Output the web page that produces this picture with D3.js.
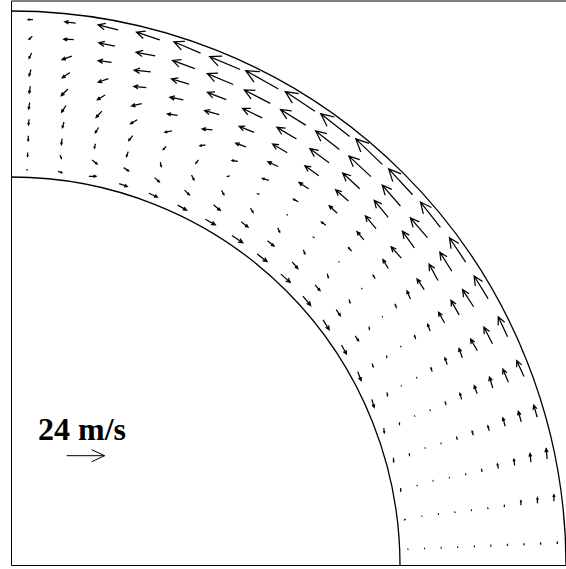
<!DOCTYPE html>
<html>
<head>
<meta charset="utf-8">
<script src="https://cdn.jsdelivr.net/npm/d3@7"></script>
<style>
  body { margin: 0; background: #fff; }
  svg { display: block; }
</style>
</head>
<body>
<div id="chart"></div>
<script>
const FRAME_WIDTH = 566;
const FRAME_HEIGHT = 569;
const CX = 11.5, CY = 565.5;          // centre of the annulus
const R_IN = 388.5, R_OUT = 554.5;

// grid: azimuth of each row (deg) and radial level (0 = inner wall, 1 = outer wall)
const THETA = [2.25, 6.75, 11.25, 15.75, 20.25, 24.75, 29.25, 33.75, 38.25, 42.75,
               47.25, 51.75, 56.25, 60.75, 65.25, 69.75, 74.25, 78.75, 83.25, 87.75];
const LEVELS = [0.05, 0.15, 0.25, 0.35, 0.45, 0.55, 0.65, 0.75, 0.85, 0.95];

// azimuthal velocity (m/s), one row per azimuth, inner -> outer
const V_THETA = [
  [0.3, 0.4, 0.5, 0.5, 0.6, 0.7, 0.8, 0.9, 1.0, 1.1],
  [-0.5, 0.3, 0.4, 0.5, 0.5, 0.6, 1.0, 2.8, 3.4, 4.2],
  [-1.8, -0.3, 0.4, 0.5, 0.6, 1.5, 3.0, 4.0, 5.5, 6.5],
  [-2.5, -1.2, 0.4, 0.5, 1.5, 2.7, 3.2, 5.5, 6.8, 8.0],
  [-2.8, -1.2, 0.3, 0.5, 2.0, 4.0, 5.4, 7.2, 9.0, 11.0],
  [-5.2, -2.0, 0.0, 0.5, 2.5, 4.5, 6.2, 8.5, 11.8, 14.0],
  [-6.0, -2.2, -1.0, 0.4, 2.2, 4.5, 7.8, 10.5, 12.9, 16.8],
  [-6.5, -3.8, -1.6, 0.3, 2.3, 5.4, 8.2, 11.8, 14.3, 18.5],
  [-7.3, -4.7, -2.0, 0.3, 2.5, 6.5, 9.7, 12.9, 16.5, 20.4],
  [-7.7, -4.8, -2.2, 0.3, 2.9, 6.7, 10.5, 13.9, 17.5, 22.3],
  [-7.9, -5.5, -2.5, 0.8, 3.5, 6.9, 10.8, 14.7, 19.1, 23.3],
  [-8.0, -5.3, -2.7, 0.3, 3.4, 7.2, 10.8, 15.0, 19.1, 23.3],
  [-8.2, -5.5, -3.0, 1.2, 4.1, 7.0, 10.8, 14.4, 18.8, 22.6],
  [-7.2, -5.5, -2.6, 1.0, 3.5, 6.8, 10.1, 13.8, 18.5, 23.7],
  [-6.5, -4.0, -2.7, 0.6, 2.9, 6.0, 9.5, 12.8, 17.8, 21.0],
  [-6.0, -3.8, -1.5, 1.0, 3.8, 6.3, 8.5, 11.6, 15.0, 18.3],
  [-5.4, -3.6, 0.2, 1.6, 3.4, 5.7, 7.8, 10.4, 12.3, 15.5],
  [-4.4, -3.6, 0.1, 1.4, 2.8, 4.2, 5.8, 8.5, 10.3, 13.0],
  [-2.5, -1.0, 0.0, 0.6, 2.2, 3.7, 4.4, 5.8, 6.3, 7.0],
  [0.0, 0.0, 0.0, 0.2, 0.5, 0.5, 1.0, 1.5, 2.0, 3.0]
];

// radial velocity (m/s), positive outward
const V_R = [
  [0, 0, 0, 0, 0, 0, 0, 0, 0, 0],
  [-0.6, 0, 0, 0, 0, 0, 0, 0.3, 0.4, 0.5],
  [-0.3, 0, 0, 0, 0, 0, 0, 0.3, 0.5, 0.6],
  [-0.5, -0.3, 0, 0, 0, 0, 0, 0, 0, 0],
  [-0.7, -0.3, 0, 0, 0.2, 0.3, 0, 0.4, -0.4, -0.8],
  [-0.8, -0.5, -0.3, 0, 0.3, 0.5, 0.6, -0.8, -0.5, 0],
  [-0.9, -0.5, -0.5, 0, 0.5, 0.7, 0, 0, -0.8, -0.7],
  [-0.5, 0, -0.8, 0, 0.5, 1.0, 0, 1.0, 0.4, 0],
  [-0.9, -0.3, -1.0, 0, 0.3, 0.8, -0.6, 0.6, -0.7, 0],
  [-0.4, -0.2, -1.2, 0, 0, 0.3, 0.5, 0.8, 0.5, 0],
  [0.2, -0.6, -1.3, -0.3, -0.4, 0, -0.3, 0, 0, 0.5],
  [0, 0, -1.4, -0.3, -0.6, -0.6, -0.6, -0.6, 0, 0],
  [0, -0.4, -1.4, -0.5, -1.2, -1.0, -0.6, -0.8, -0.6, 0],
  [0, -1.0, -1.7, -1.0, -1.3, -1.1, -1.3, -0.8, -0.6, 0],
  [-0.5, -1.5, -2.2, -2.6, -2.0, -2.2, -1.6, -0.8, -0.6, -0.7],
  [-0.5, -1.5, -2.5, -2.5, -2.3, -1.4, -1.4, -0.7, 0, 0.9],
  [-0.4, -1.2, -3.3, -3.7, -3.6, -3.1, -1.3, -1.9, -1.2, 0.7],
  [0.9, -1.9, -2.8, -3.7, -4.6, -4.0, -3.5, -0.6, 0, 0.6],
  [-0.5, -2.0, -3.8, -3.7, -4.5, -4.7, -3.9, -3.0, -0.5, 0],
  [-0.5, -2.5, -3.2, -3.5, -4.0, -4.5, -4.0, -3.5, -2.0, 0]
];

const KEY_SPEED = 24;
const KEY_LABEL = "24 m/s";

const angle = d3.scaleLinear().domain([0, 90]).range([0, Math.PI / 2]);
const radius = d3.scaleLinear().domain([0, 1]).range([R_IN, R_OUT]);
const speed = d3.scaleLinear().domain([0, KEY_SPEED]).range([0, 37.9]);

const FRAME = d3.select("#chart")
                .append("svg")
                  .attr("width", FRAME_WIDTH)
                  .attr("height", FRAME_HEIGHT);

// open-headed arrow from (x0,y0) along (dx,dy)
function arrow(x0, y0, dx, dy) {
  const len = Math.hypot(dx, dy);
  const x1 = x0 + dx, y1 = y0 + dy;
  if (len < 0.05) return `M${x0},${y0}l0.6,0`;
  const a = Math.atan2(dy, dx);
  const h = 0.38 * len, w = 25 * Math.PI / 180;
  const bx1 = x1 - h * Math.cos(a - w), by1 = y1 - h * Math.sin(a - w);
  const bx2 = x1 - h * Math.cos(a + w), by2 = y1 - h * Math.sin(a + w);
  return `M${x0},${y0}L${x1},${y1}M${bx1},${by1}L${x1},${y1}L${bx2},${by2}`;
}

// frame
FRAME.append("line")
    .attr("x1", CX).attr("y1", 1).attr("x2", FRAME_WIDTH).attr("y2", 1)
    .attr("stroke", "black").attr("stroke-width", 1);
FRAME.append("line")
    .attr("x1", CX).attr("y1", 1).attr("x2", CX).attr("y2", CY)
    .attr("stroke", "black").attr("stroke-width", 1);
FRAME.append("line")
    .attr("x1", CX).attr("y1", CY).attr("x2", FRAME_WIDTH).attr("y2", CY)
    .attr("stroke", "black").attr("stroke-width", 1);

// inner and outer walls
[0, 1].forEach((lv) => {
  const p = d3.path();
  p.arc(CX, CY, radius(lv), -Math.PI / 2, 0);
  FRAME.append("path")
      .attr("d", p.toString())
      .attr("fill", "none")
      .attr("stroke", "black")
      .attr("stroke-width", 1.3);
});

const vectors = THETA.flatMap((t, j) => LEVELS.map((lv, i) => ({
  t: t, lv: lv, vt: V_THETA[j][i], vr: V_R[j][i]
})));

FRAME.selectAll(".vec")
    .data(vectors)
    .enter()
    .append("path")
      .attr("class", "vec")
      .attr("fill", "none")
      .attr("stroke", "black")
      .attr("stroke-width", 1.25)
      .attr("d", (d) => {
        const a = angle(d.t), r = radius(d.lv);
        const x0 = CX + r * Math.cos(a), y0 = CY - r * Math.sin(a);
        const dx = speed(d.vr) * Math.cos(a) - speed(d.vt) * Math.sin(a);
        const dy = -(speed(d.vr) * Math.sin(a) + speed(d.vt) * Math.cos(a));
        return arrow(x0, y0, dx, dy);
      });

// key
FRAME.append("text")
    .attr("x", 38)
    .attr("y", 440)
    .attr("font-family", "'Liberation Serif', 'Times New Roman', serif")
    .attr("font-weight", "bold")
    .attr("font-size", 32)
    .text(KEY_LABEL);

FRAME.append("path")
    .attr("fill", "none")
    .attr("stroke", "black")
    .attr("stroke-width", 1)
    .attr("d", arrow(66.7, 455.7, speed(KEY_SPEED), 0));
</script>
</body>
</html>
